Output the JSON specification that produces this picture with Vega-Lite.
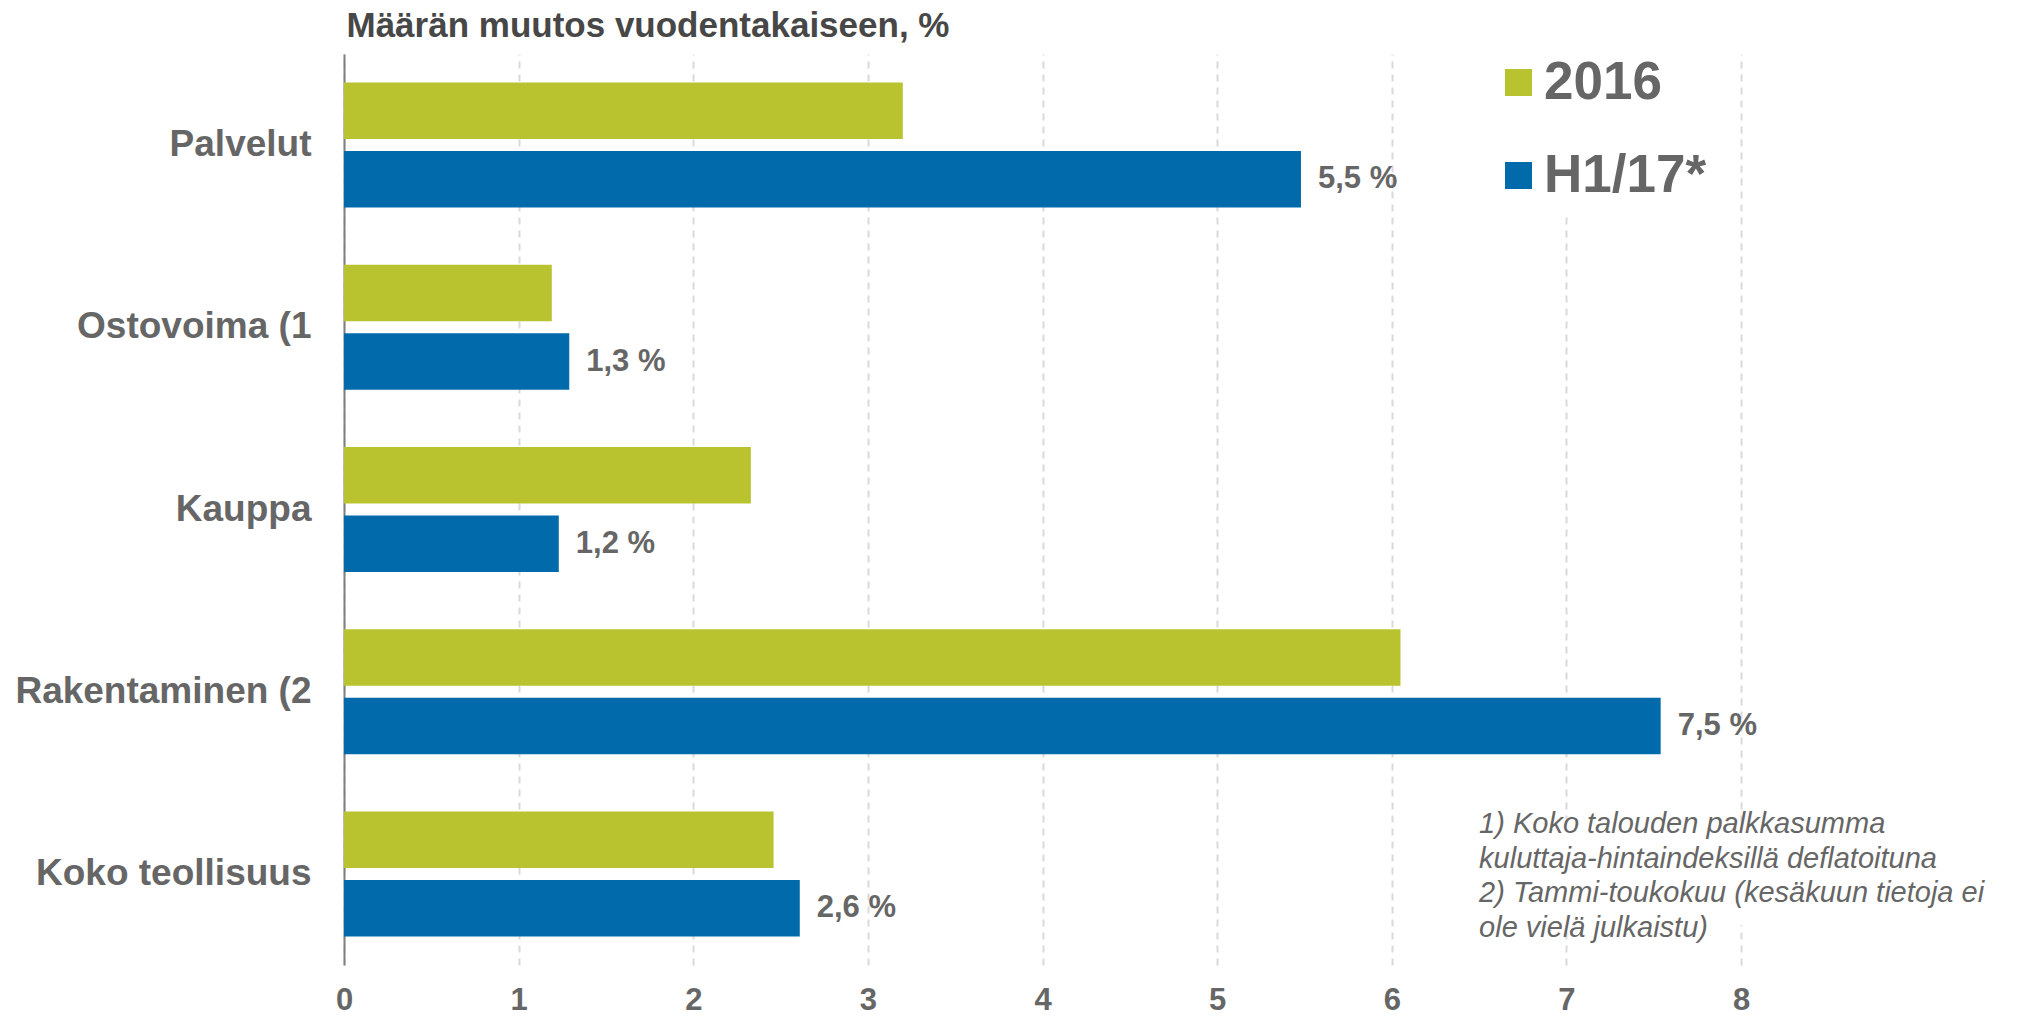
{
  "$schema": "https://vega.github.io/schema/vega-lite/v6.json",
  "width": 1397,
  "height": 911,
  "autosize": {"type": "none"},
  "padding": {"left": 344, "top": 54, "right": 276, "bottom": 53},
  "background": "white",
  "config": {
    "view": {"stroke": null},
    "font": "Liberation Sans"
  },
  "data": {
    "values": [
      {"category": "Palvelut", "series": "2016", "value": 3.20},
      {"category": "Palvelut", "series": "H1/17*", "value": 5.48, "label": "5,5 %"},
      {"category": "Ostovoima (1", "series": "2016", "value": 1.19},
      {"category": "Ostovoima (1", "series": "H1/17*", "value": 1.29, "label": "1,3 %"},
      {"category": "Kauppa", "series": "2016", "value": 2.33},
      {"category": "Kauppa", "series": "H1/17*", "value": 1.23, "label": "1,2 %"},
      {"category": "Rakentaminen (2", "series": "2016", "value": 6.05},
      {"category": "Rakentaminen (2", "series": "H1/17*", "value": 7.54, "label": "7,5 %"},
      {"category": "Koko teollisuus", "series": "2016", "value": 2.46},
      {"category": "Koko teollisuus", "series": "H1/17*", "value": 2.61, "label": "2,6 %"}
    ]
  },
  "encoding": {
    "y": {
      "field": "category",
      "type": "nominal",
      "sort": ["Palvelut", "Ostovoima (1", "Kauppa", "Rakentaminen (2", "Koko teollisuus"],
      "scale": {"paddingInner": 0.314, "paddingOuter": 0.157},
      "axis": {
        "title": "Määrän muutos vuodentakaiseen, %",
        "titleAngle": 0,
        "titleAlign": "left",
        "titleBaseline": "alphabetic",
        "titleX": 2,
        "titleY": -18,
        "titleFont": "Liberation Sans",
        "titleFontSize": 35,
        "titleFontWeight": "bold",
        "titleColor": "#474747",
        "titleLimit": 1000,
        "domain": true,
        "domainColor": "#7f7f7f",
        "domainWidth": 2,
        "ticks": false,
        "grid": false,
        "labelFont": "Liberation Sans",
        "labelFontSize": 37,
        "labelFontWeight": "bold",
        "labelColor": "#666666",
        "labelPadding": 33,
        "labelLimit": 400
      }
    }
  },
  "layer": [
    {
      "mark": {"type": "bar", "cornerRadius": 0},
      "encoding": {
        "x": {
          "field": "value",
          "type": "quantitative",
          "scale": {"domain": [0, 8], "nice": false, "zero": true},
          "axis": {
            "title": null,
            "values": [0, 1, 2, 3, 4, 5, 6, 7, 8],
            "format": "d",
            "domain": false,
            "ticks": false,
            "grid": true,
            "gridColor": "#d9d9d9",
            "gridWidth": 2,
            "gridDash": [7, 6],
            "labelFlush": false,
            "labelFont": "Liberation Sans",
            "labelFontSize": 31,
            "labelFontWeight": "bold",
            "labelColor": "#666666",
            "labelPadding": 20
          }
        },
        "yOffset": {
          "field": "series",
          "type": "nominal",
          "scale": {"paddingInner": 0.175, "paddingOuter": 0}
        },
        "color": {
          "field": "series",
          "type": "nominal",
          "scale": {"domain": ["2016", "H1/17*"], "range": ["#B9C330", "#006AAB"]},
          "legend": {
            "title": null,
            "orient": "none",
            "legendX": 1136,
            "legendY": -10,
            "fillColor": "white",
            "padding": 12,
            "symbolType": "square",
            "symbolSize": 729,
            "symbolStrokeWidth": 0,
            "symbolOpacity": 1,
            "labelFont": "Liberation Sans",
            "labelFontSize": 53,
            "labelFontWeight": "bold",
            "labelColor": "#666666",
            "labelOffset": -1,
            "rowPadding": 39,
            "labelLimit": 400
          }
        }
      }
    },
    {
      "transform": [{"filter": "datum.label"}],
      "mark": {
        "type": "text",
        "align": "left",
        "baseline": "middle",
        "dx": 17,
        "font": "Liberation Sans",
        "fontSize": 31,
        "fontWeight": "bold",
        "color": "#666666"
      },
      "encoding": {
        "x": {"field": "value", "type": "quantitative"},
        "yOffset": {
          "field": "series",
          "type": "nominal",
          "scale": {"paddingInner": 0.175, "paddingOuter": 0}
        },
        "text": {"field": "label"}
      }
    },
    {
      "data": {"values": [{"category": "Koko teollisuus", "note": "1) Koko talouden palkkasumma\nkuluttaja-hintaindeksillä deflatoituna\n2) Tammi-toukokuu (kesäkuun tietoja ei\nole vielä julkaistu)"}]},
      "mark": {"type": "bar", "color": "white", "height": {"band": 0.82}},
      "encoding": {
        "x": {"datum": 6.45},
        "x2": {"datum": 8.4}
      }
    },
    {
      "data": {"values": [{"category": "Koko teollisuus", "note": "1) Koko talouden palkkasumma\nkuluttaja-hintaindeksillä deflatoituna\n2) Tammi-toukokuu (kesäkuun tietoja ei\nole vielä julkaistu)"}]},
      "mark": {
        "type": "text",
        "align": "left",
        "baseline": "middle",
        "dy": -50,
        "lineBreak": "\n",
        "lineHeight": 34.7,
        "font": "Liberation Sans",
        "fontSize": 29,
        "fontStyle": "italic",
        "color": "#666666"
      },
      "encoding": {
        "x": {"datum": 6.5},
        "text": {"field": "note", "type": "nominal"}
      }
    }
  ]
}
